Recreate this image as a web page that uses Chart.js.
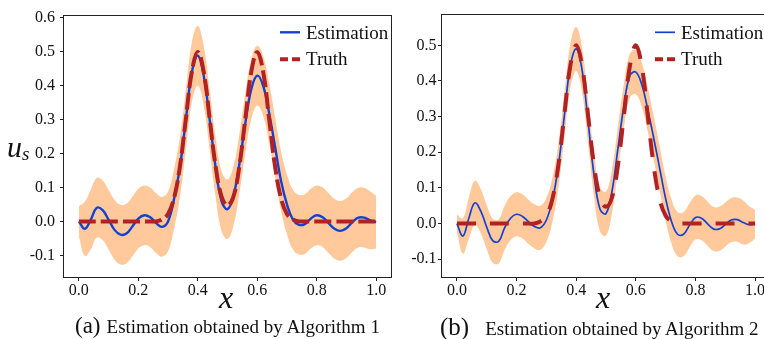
<!DOCTYPE html>
<html><head><meta charset="utf-8">
<script src="https://cdn.jsdelivr.net/npm/chart.js@4"></script>
<style>
html,body{margin:0;padding:0;background:#fff;overflow:hidden;width:764px;height:339px;}
#c1{position:absolute;left:0;top:0;}
#c2{position:absolute;left:392px;top:0;}
.lbl{position:absolute;font-family:"Liberation Serif","Times New Roman",serif;color:#111;white-space:nowrap;}
</style></head><body>
<canvas id="c1" width="392" height="339"></canvas>
<canvas id="c2" width="380" height="339"></canvas>
<div class="lbl" style="left:7px;top:132px;font-size:30px;line-height:30px;font-style:italic">u<span style="font-size:19px;vertical-align:-3px">s</span></div>
<div class="lbl" style="left:176px;top:281px;width:100px;text-align:center;font-size:32px;line-height:32px;font-style:italic">x</div>
<div class="lbl" style="left:553px;top:281px;width:100px;text-align:center;font-size:32px;line-height:32px;font-style:italic">x</div>
<div class="lbl" style="left:75px;top:314px;font-size:23px;line-height:23px">(a)<span style="font-size:19px;line-height:19px;margin-left:6px">Estimation obtained by Algorithm 1</span></div>
<div class="lbl" style="left:440px;top:314px;font-size:25px;line-height:25px">(b)<span style="font-size:19px;line-height:19px;margin-left:16px">Estimation obtained by Algorithm 2</span></div>
<script>
// ---- data ----
const xs = [0,0.02,0.04,0.06,0.08,0.10,0.12,0.14,0.16,0.18,0.20,0.22,0.24,0.26,0.28,0.30,0.32,0.34,0.36,0.38,0.40,0.42,0.44,0.46,0.48,0.50,0.52,0.54,0.56,0.58,0.60,0.62,0.64,0.66,0.68,0.70,0.72,0.74,0.76,0.78,0.80,0.82,0.84,0.86,0.88,0.90,0.92,0.94,0.96,0.98,1.00];
const truth = [0,0,0,0,0,0,0,0,0,0,0,0,0,0,0.006,0.022,0.068,0.162,0.303,0.441,0.500,0.441,0.303,0.163,0.073,0.047,0.073,0.163,0.303,0.441,0.500,0.441,0.303,0.162,0.068,0.022,0.006,0,0,0,0,0,0,0,0,0,0,0,0,0,0];
const estA = [0.000,-0.022,0.005,0.040,0.033,0.005,-0.025,-0.039,-0.036,-0.015,0.008,0.018,0.012,-0.005,-0.016,0.000,0.065,0.160,0.300,0.440,0.489,0.430,0.300,0.160,0.060,0.036,0.075,0.170,0.290,0.390,0.430,0.400,0.320,0.220,0.120,0.050,0.005,-0.010,-0.008,0.008,0.018,0.012,-0.005,-0.022,-0.028,-0.020,-0.002,0.011,0.011,0.003,-0.002];
const upA = [0.045,0.058,0.093,0.128,0.121,0.093,0.063,0.049,0.052,0.073,0.096,0.106,0.100,0.083,0.072,0.088,0.153,0.248,0.388,0.528,0.577,0.518,0.388,0.248,0.148,0.124,0.163,0.258,0.378,0.478,0.518,0.488,0.408,0.308,0.208,0.138,0.093,0.078,0.080,0.096,0.106,0.100,0.083,0.066,0.060,0.068,0.086,0.099,0.099,0.088,0.076];
const loA = [-0.045,-0.102,-0.083,-0.048,-0.055,-0.083,-0.113,-0.127,-0.124,-0.103,-0.080,-0.070,-0.076,-0.093,-0.104,-0.088,-0.023,0.072,0.212,0.352,0.401,0.342,0.212,0.072,-0.028,-0.052,-0.013,0.082,0.202,0.302,0.342,0.312,0.232,0.132,0.032,-0.038,-0.083,-0.098,-0.096,-0.080,-0.070,-0.076,-0.093,-0.110,-0.116,-0.108,-0.090,-0.077,-0.077,-0.082,-0.080];
const estB = [0.000,-0.035,0.015,0.058,0.035,-0.010,-0.048,-0.050,-0.012,0.015,0.026,0.020,0.005,-0.008,-0.012,0.010,0.065,0.160,0.300,0.440,0.490,0.430,0.285,0.135,0.040,0.028,0.090,0.210,0.330,0.415,0.425,0.390,0.320,0.240,0.155,0.070,0.005,-0.030,-0.030,-0.005,0.017,0.015,0.000,-0.015,-0.015,-0.003,0.010,0.011,0.003,-0.003,-0.002];
const upB = [0.025,0.015,0.073,0.120,0.097,0.052,0.014,0.012,0.050,0.077,0.088,0.082,0.067,0.054,0.050,0.072,0.127,0.222,0.362,0.502,0.552,0.492,0.347,0.197,0.102,0.090,0.152,0.272,0.392,0.477,0.487,0.452,0.382,0.302,0.217,0.132,0.067,0.032,0.032,0.057,0.079,0.077,0.062,0.047,0.047,0.059,0.072,0.073,0.065,0.049,0.038];
const loB = [-0.025,-0.085,-0.043,-0.004,-0.027,-0.072,-0.110,-0.112,-0.074,-0.047,-0.036,-0.042,-0.057,-0.070,-0.074,-0.052,0.003,0.098,0.238,0.378,0.428,0.368,0.223,0.073,-0.022,-0.034,0.028,0.148,0.268,0.353,0.363,0.328,0.258,0.178,0.093,0.008,-0.057,-0.092,-0.092,-0.067,-0.045,-0.047,-0.062,-0.077,-0.077,-0.065,-0.052,-0.051,-0.059,-0.055,-0.042];
const xTicks = [0.0,0.2,0.4,0.6,0.8,1.0];
const yTicksA = [-0.1,0.0,0.1,0.2,0.3,0.4,0.5,0.6];
const yTicksB = [-0.1,0.0,0.1,0.2,0.3,0.4,0.5];
const legendLabels = ['Estimation','Truth'];

// ---- styles ----
const FONT = '"Liberation Serif","Times New Roman",serif';
const BLUE = '#1441d2', RED = '#b22222', ORANGE = 'rgb(255,201,156)';

function pts(arr){ return xs.map((x,i)=>({x:x, y:arr[i]})); }

const frame = { id:'frame', afterDraw(c){
  const a=c.chartArea, ctx=c.ctx; ctx.save();
  ctx.strokeStyle='#222'; ctx.lineWidth=1;
  ctx.strokeRect(Math.round(a.left)-0.5, Math.round(a.top)+0.5, Math.round(a.right)-Math.round(a.left)+1, Math.round(a.bottom)-Math.round(a.top));
  ctx.restore();
}};
const legendPlugin = { id:'lg', afterDraw(c, args, o){
  const ctx=c.ctx; ctx.save();
  const ds=[c.data.datasets[1], c.data.datasets[0]];
  ds.forEach((d,i)=>{
    const y=o.rows[i];
    ctx.beginPath(); ctx.strokeStyle=d.borderColor; ctx.lineWidth=d.borderWidth;
    ctx.setLineDash(i===1?o.dash:[]); ctx.lineCap='butt';
    ctx.moveTo(o.x0,y); ctx.lineTo(o.x1,y); ctx.stroke();
    ctx.setLineDash([]);
    ctx.fillStyle='#111'; ctx.font='19px '+FONT; ctx.textBaseline='alphabetic'; ctx.textAlign='left';
    ctx.fillText(d.label, o.tx, o.base[i]);
  });
  ctx.restore();
}};

function makeChart(id, est, up, lo, cfg){
  return new Chart(document.getElementById(id), {
    type:'line',
    data:{ datasets:[
      {label:legendLabels[1], data:pts(truth), borderColor:RED, borderWidth:4, borderDash:cfg.dash, borderCapStyle:'butt', fill:false, tension:0.4, pointRadius:0},
      {label:legendLabels[0], data:pts(est), borderColor:BLUE, borderWidth:cfg.bw, fill:false, tension:0.4, pointRadius:0},
      {label:'upper', data:pts(up), borderColor:'rgba(0,0,0,0)', borderWidth:0, backgroundColor:ORANGE, fill:'+1', tension:0.4, pointRadius:0},
      {label:'lower', data:pts(lo), borderColor:'rgba(0,0,0,0)', borderWidth:0, fill:false, tension:0.4, pointRadius:0}
    ]},
    options:{
      responsive:false, animation:false, devicePixelRatio:1,
      layout:{padding:{left:0,right:cfg.padR,top:14,bottom:0}},
      plugins:{ legend:{display:false}, tooltip:{enabled:false},
        lg:{rows:[32.3,59.3], base:[38.5,65], x0:cfg.lx0, x1:cfg.lx0+20, tx:cfg.lx0+26, dash:[8,4]} },
      scales:{
        x:{ type:'linear', min:-0.05, max:1.05,
          afterFit:a=>{a.height=62;},
          afterBuildTicks:a=>{a.ticks=xTicks.map(v=>({value:v}));},
          ticks:{callback:v=>Number(v).toFixed(1), font:{family:FONT,size:16}, color:'#111', padding:0, maxRotation:0, autoSkip:false},
          grid:{drawOnChartArea:false, drawTicks:true, tickLength:4, color:'#222'}, border:{display:false} },
        y:{ type:'linear', min:cfg.ymin, max:cfg.ymax,
          afterFit:a=>{a.width=cfg.yw;},
          afterBuildTicks:a=>{a.ticks=cfg.yt.map(v=>({value:v}));},
          ticks:{callback:v=>Number(v).toFixed(1), font:{family:FONT,size:16}, color:'#111', padding:cfg.ypad, autoSkip:false},
          grid:{drawOnChartArea:false, drawTicks:true, tickLength:4, color:'#222'}, border:{display:false} }
      }
    },
    plugins:[frame, legendPlugin]
  });
}
makeChart('c1', estA, upA, loA, {ymin:-0.164, ymax:0.61, yt:yTicksA, yw:64, padR:1, ypad:5, bw:2.4, dash:[17,5], lx0:280});
makeChart('c2', estB, upB, loB, {ymin:-0.15, ymax:0.588, yt:yTicksB, yw:50, padR:2, ypad:1.5, bw:1.7, dash:[19,14], lx0:263});
</script>
</body></html>
